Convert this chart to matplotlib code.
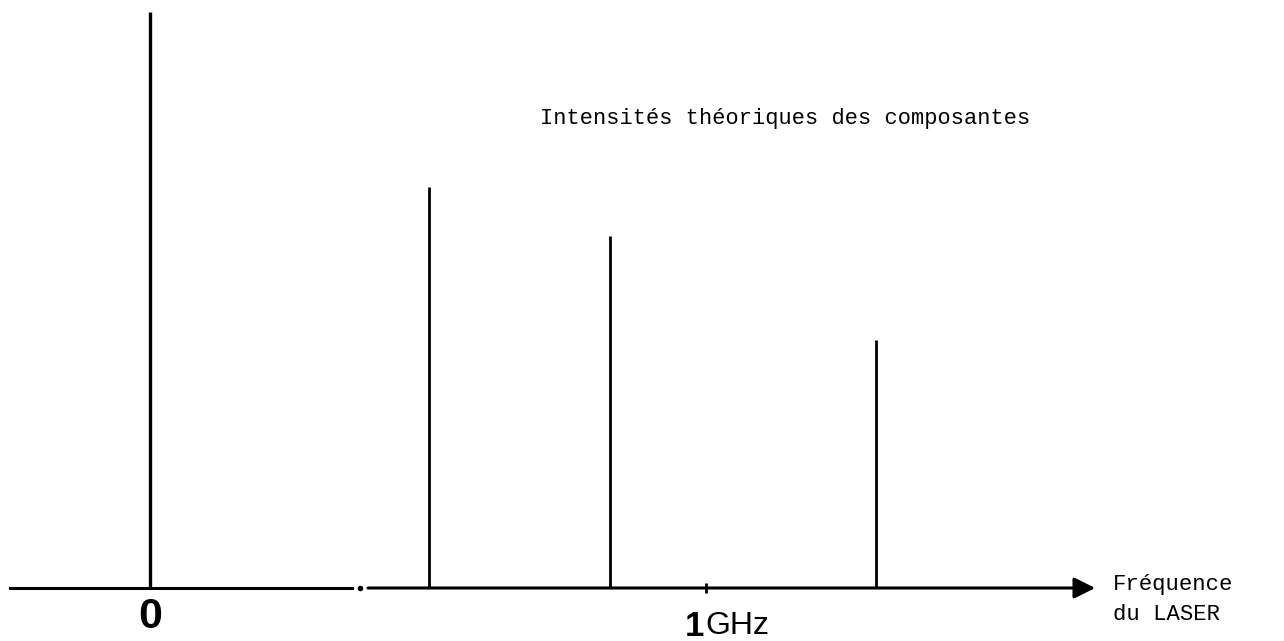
import matplotlib
matplotlib.use("Agg")
import matplotlib.pyplot as plt

# Data: component frequencies (GHz) and theoretical relative intensities
freqs = [0.0, 0.502, 0.827, 1.306]
intensities = [1.0, 0.696, 0.611, 0.431]
tick_labels = ["0", "1GHz"]
tick_pos = [0.0, 1.0]

W, H = 1284, 641
fig = plt.figure(figsize=(W / 100, H / 100), dpi=100)
ax = fig.add_axes([0, 0, 1, 1])
px_per_ghz = 556.0
x0_px = 150.0
ax.set_xlim((0 - x0_px) / px_per_ghz, (W - x0_px) / px_per_ghz)
y_axis_px = 588.0
px_per_unit = 576.0
ax.set_ylim((y_axis_px - H) / px_per_unit, y_axis_px / px_per_unit)
ax.axis("off")

# stems
for f, a in zip(freqs, intensities):
    ax.plot([f, f], [0, a], color="black", lw=2.0 if a < 0.9 else 2.4, solid_capstyle="butt")

# frequency axis with a small break and an arrow head
ax.plot([-0.252, 0.364], [0, 0], color="black", lw=2.2)
ax.plot([0.378], [0], "o", color="black", ms=3)
ax.annotate("", xy=(1.70, 0), xytext=(0.392, 0),
            arrowprops=dict(arrowstyle="-|>", color="black", lw=2.2,
                            mutation_scale=32, shrinkA=0, shrinkB=0))
# 1 GHz tick
ax.plot([tick_pos[1]], [0.0], marker="|", color="black", ms=7, mew=2)

# tick labels
ax.text(tick_pos[0], -0.05, tick_labels[0], ha="center", va="center",
        fontsize=31, fontweight="bold", family="Liberation Sans")
ax.text(tick_pos[1] - 0.004, -0.066, tick_labels[1][:1], ha="right", va="center",
        fontsize=25, fontweight="bold", family="Liberation Sans")
ax.text(tick_pos[1] - 0.002, -0.066, tick_labels[1][1:], ha="left", va="center",
        fontsize=23, family="Liberation Sans")

# annotations
ax.text(0.702, 0.815, "Intensités théoriques des composantes", ha="left",
        va="center", fontsize=15.8, family="Liberation Mono")
ax.text(1.732, -0.02, "Fréquence\ndu LASER", ha="left", va="center",
        fontsize=16, family="Liberation Mono", linespacing=1.6)

fig.savefig("out.png", dpi=100)
